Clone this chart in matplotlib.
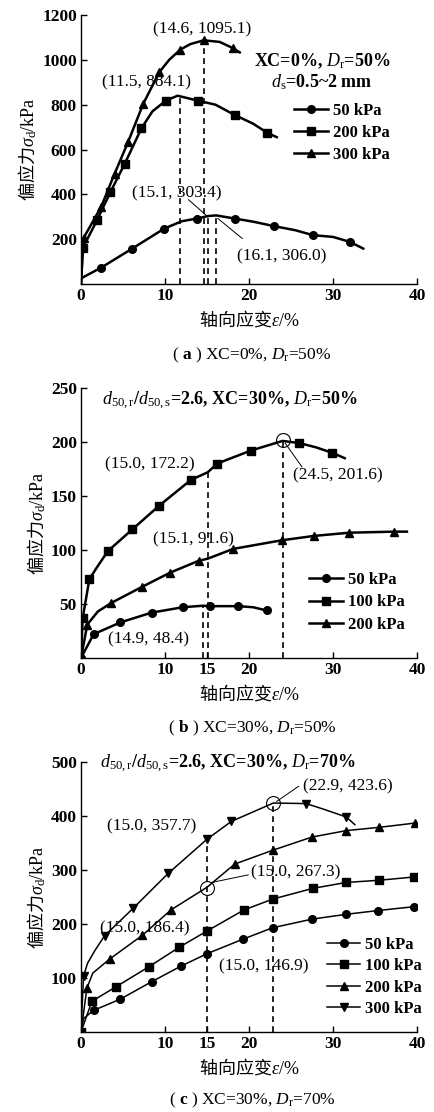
import matplotlib
matplotlib.use("Agg")
import matplotlib.pyplot as plt

plt.rcParams['font.family'] = ['Liberation Serif', 'Noto Sans CJK SC']
plt.rcParams['mathtext.fontset'] = 'custom'
plt.rcParams['mathtext.rm'] = 'Liberation Serif'
plt.rcParams['mathtext.it'] = 'Liberation Serif:italic'
plt.rcParams['mathtext.bf'] = 'Liberation Serif:bold'
plt.rcParams['axes.unicode_minus'] = False

# ---------------- Panel (a) data ----------------
a50_x = [0, 2.4, 6.1, 9.9, 12.0, 13.8, 15.1, 16.1, 18.3, 20.5, 23.0, 25.5, 27.6, 30.0, 32.0, 33.6]
a50_y = [25, 73, 158, 247, 280, 292, 303, 306, 292, 278, 258, 240, 218, 210, 188, 158]
a50_m = [1, 2, 3, 5, 8, 10, 12, 14]
a200_x = [0, 0.2, 1.9, 3.5, 5.2, 7.2, 8.5, 10.1, 11.5, 13.9, 16.0, 18.3, 20.5, 22.2, 23.3]
a200_y = [0, 160, 284, 410, 536, 695, 770, 818, 840, 818, 800, 754, 715, 674, 655]
a200_m = [1, 2, 3, 4, 5, 7, 9, 11, 13]
a300_x = [0, 0.3, 2.4, 4.0, 5.6, 7.4, 9.3, 10.5, 11.8, 13.0, 14.6, 16.5, 18.1, 18.9]
a300_y = [0, 205, 344, 492, 633, 803, 944, 1000, 1045, 1070, 1087, 1080, 1052, 1033]
a300_m = [1, 2, 3, 4, 5, 6, 8, 10, 12]
a_peak_x = [11.8, 14.6, 15.1, 16.1]
a_peak_y = [840, 1087, 303, 306]

# ---------------- Panel (b) data ----------------
b50_x = [0, 1.5, 4.7, 8.4, 12.1, 14.5, 15.3, 18.7, 20.5, 22.1]
b50_y = [0, 22, 33, 42, 47, 48.4, 48, 48, 47, 44]
b50_m = [0, 1, 2, 3, 4, 6, 7, 9]
b100_x = [0, 0.2, 1.0, 1.9, 3.2, 6.1, 9.3, 13.1, 15.1, 16.2, 20.2, 24.0, 26.0, 28.0, 29.9, 31.4]
b100_y = [0, 37, 73, 84, 99, 119, 141, 165, 172, 180, 192, 201, 199, 195, 190, 185]
b100_m = [1, 2, 4, 5, 6, 7, 9, 10, 12, 14]
b200_x = [0, 0.75, 2.0, 3.6, 7.3, 10.6, 14.0, 15.1, 18.1, 23.9, 27.7, 31.9, 37.3, 38.8]
b200_y = [0, 31, 43, 51, 66, 79, 90, 92, 101, 109, 113, 116, 117, 117]
b200_m = [1, 3, 4, 5, 6, 8, 9, 10, 11, 12]
b_peak_x = [14.5, 15.1, 24.0]
b_peak_y = [48.4, 172.2, 201.6]

# ---------------- Panel (c) data ----------------
c50_x = [0, 0.3, 1.5, 4.7, 8.4, 11.9, 15.0, 19.3, 22.8, 27.5, 31.6, 35.4, 39.6]
c50_y = [0, 25, 40, 61, 93, 122, 145, 172, 193, 209, 218, 225, 232]
c50_m = [2, 3, 4, 5, 6, 7, 8, 9, 10, 11, 12]
c100_x = [0, 1.3, 4.2, 8.1, 11.7, 15.0, 19.4, 22.8, 27.6, 31.6, 35.5, 39.6]
c100_y = [0, 57, 84, 121, 157, 187, 226, 246, 266, 277, 281, 287]
c100_m = [0, 1, 2, 3, 4, 5, 6, 7, 8, 9, 10, 11]
c200_x = [0, 0.7, 1.4, 3.4, 7.3, 10.7, 15.0, 18.3, 22.9, 27.5, 31.6, 35.5, 39.8]
c200_y = [0, 81, 109, 135, 179, 226, 268, 311, 337, 361, 373, 379, 387]
c200_m = [1, 3, 4, 5, 7, 8, 9, 10, 11, 12]
c300_x = [0, 0.3, 0.8, 1.7, 2.8, 6.2, 10.4, 15.0, 17.9, 22.9, 26.8, 29.0, 31.6, 32.6]
c300_y = [0, 104, 128, 152, 178, 229, 294, 357, 390, 424, 423, 412, 398, 384]
c300_m = [1, 4, 5, 6, 7, 8, 10, 12]
c_peak_x = [15.0, 22.9]
c_peak_y = [357.7, 423.6]

W, H = 434, 1112
fig = plt.figure(figsize=(W / 100, H / 100), dpi=100)
FS = 12.5
CJK = ['Noto Sans CJK SC']


def make_ax(top_px, bottom_px):
    ax = fig.add_axes([81 / W, 1 - bottom_px / H, 336 / W, (bottom_px - top_px) / H])
    ax.spines['top'].set_visible(False)
    ax.spines['right'].set_visible(False)
    ax.spines['left'].set_linewidth(1.0)
    ax.spines['bottom'].set_linewidth(1.0)
    ax.tick_params(direction='in', length=4, width=1.0, labelsize=FS, pad=3)
    ax.set_xlim(0, 40)
    ax.set_xlabel(r'轴向应变$\varepsilon\mathrm{/\%}$', fontsize=13, labelpad=3, family=CJK)
    ax.set_ylabel(r'偏应力$\sigma_{\mathrm{d}}\mathrm{/kPa}$', fontsize=13, labelpad=2, family=CJK)
    return ax


def boldticks(ax):
    for lab in ax.get_xticklabels() + ax.get_yticklabels():
        lab.set_fontweight('bold')


def series(ax, x, y, m, marker, label, lw, ms):
    ax.plot(x, y, color='black', lw=lw, marker=marker, markevery=m, ms=ms,
            mfc='black', mec='black', label=label)


dash = dict(color='black', lw=1.2, linestyle=(0, (3.5, 2.5)))
lead = dict(color='black', lw=0.7)
ann = dict(fontsize=12.5, ha='center', va='center')
hdr = dict(fontsize=13, fontweight='bold', ha='center', va='center')
leg = dict(frameon=False, prop={'size': 12, 'weight': 'bold'}, handlelength=2.0,
           handletextpad=0.3, borderpad=0, borderaxespad=0)

# ================= (a) =================
ax = make_ax(15, 284)
ax.set_ylim(0, 1200)
ax.set_xticks([0, 10, 20, 30, 40])
ax.set_yticks([200, 400, 600, 800, 1000, 1200])
for px, py in zip(a_peak_x, a_peak_y):
    ax.plot([px, px], [0, py], **dash)
series(ax, a50_x, a50_y, a50_m, 'o', '50 kPa', 1.8, 5.5)
series(ax, a200_x, a200_y, a200_m, 's', '200 kPa', 1.8, 5.5)
series(ax, a300_x, a300_y, a300_m, '^', '300 kPa', 1.8, 6)
ax.text(14.4, 1136, '(14.6, 1095.1)', **ann)
ax.text(7.8, 899, '(11.5, 884.1)', **ann)
ax.text(11.4, 406, '(15.1, 303.4)', **ann)
ax.text(23.9, 124, '(16.1, 306.0)', **ann)
ax.plot([12.8, 15.1], [376, 300], **lead)
ax.plot([16.3, 19.2], [292, 203], **lead)
ax.text(28.7, 993, r'XC=0%, $D_{\mathrm{r}}$=50%', **hdr)
ax.text(28.7, 902, r'$d_{\mathrm{s}}$=0.5~2 mm', **hdr)
ax.legend(loc='upper left', bbox_to_anchor=(25.4, 807), bbox_transform=ax.transData,
          labelspacing=0.35, **leg)
boldticks(ax)
fig.text(252 / W, 1 - 355 / H, r'( $\mathbf{a}$ ) XC=0%, $D_{\mathrm{r}}$=50%', fontsize=12.5,
         ha='center', va='center')

# ================= (b) =================
ax = make_ax(388, 658)
ax.set_ylim(0, 250)
ax.set_xticks([0, 10, 15, 20, 30, 40])
ax.set_yticks([50, 100, 150, 200, 250])
for px, py in zip(b_peak_x, b_peak_y):
    ax.plot([px, px], [0, py], **dash)
series(ax, b50_x, b50_y, b50_m, 'o', '50 kPa', 1.8, 5.5)
series(ax, b100_x, b100_y, b100_m, 's', '100 kPa', 1.8, 5.5)
series(ax, b200_x, b200_y, b200_m, '^', '200 kPa', 1.8, 6)
ax.plot([24.0], [201.6], 'o', mfc='none', mec='black', ms=10, mew=0.8)
ax.plot([24.3, 26.3], [199, 177], **lead)
ax.text(8.2, 179, '(15.0, 172.2)', **ann)
ax.text(30.6, 169, '(24.5, 201.6)', **ann)
ax.text(13.4, 110, '(15.1, 91.6)', **ann)
ax.text(8.0, 17, '(14.9, 48.4)', **ann)
ax.text(17.7, 238, r'$d_{\mathrm{50,r}}$/$d_{\mathrm{50,s}}$=2.6, XC=30%, $D_{\mathrm{r}}$=50%', **hdr)
ax.legend(loc='upper left', bbox_to_anchor=(27.2, 79.6), bbox_transform=ax.transData,
          labelspacing=0.38, **leg)
boldticks(ax)
fig.text(252 / W, 1 - 728 / H, r'( $\mathbf{b}$ ) XC=30%, $D_{\mathrm{r}}$=50%', fontsize=12.5,
         ha='center', va='center')

# ================= (c) =================
ax = make_ax(762, 1032)
ax.set_ylim(0, 500)
ax.set_xticks([0, 10, 15, 20, 30, 40])
ax.set_yticks([100, 200, 300, 400, 500])
for px, py in zip(c_peak_x, c_peak_y):
    ax.plot([px, px], [0, py], **dash)
series(ax, c50_x, c50_y, c50_m, 'o', '50 kPa', 1.1, 5.5)
series(ax, c100_x, c100_y, c100_m, 's', '100 kPa', 1.1, 5.5)
series(ax, c200_x, c200_y, c200_m, '^', '200 kPa', 1.1, 6)
series(ax, c300_x, c300_y, c300_m, 'v', '300 kPa', 1.1, 6)
ax.plot([15.0, 22.9], [267.3, 423.6], 'o', mfc='none', mec='black', ms=10, mew=0.8)
ax.plot([23.3, 25.9], [427, 455], **lead)
ax.plot([15.6, 19.9], [277, 291], **lead)
ax.text(31.8, 454, '(22.9, 423.6)', **ann)
ax.text(8.4, 381, '(15.0, 357.7)', **ann)
ax.text(25.5, 295, '(15.0, 267.3)', **ann)
ax.text(7.6, 192, '(15.0, 186.4)', **ann)
ax.text(21.7, 122, '(15.0, 146.9)', **ann)
ax.text(17.5, 497, r'$d_{\mathrm{50,r}}$/$d_{\mathrm{50,s}}$=2.6, XC=30%, $D_{\mathrm{r}}$=70%', **hdr)
ax.legend(loc='upper left', bbox_to_anchor=(29.3, 176), bbox_transform=ax.transData,
          labelspacing=0.32, **leg)
boldticks(ax)
fig.text(252 / W, 1 - 1100 / H, r'( $\mathbf{c}$ ) XC=30%, $D_{\mathrm{r}}$=70%', fontsize=12.5,
         ha='center', va='center')

fig.savefig('out.png', dpi=100)
